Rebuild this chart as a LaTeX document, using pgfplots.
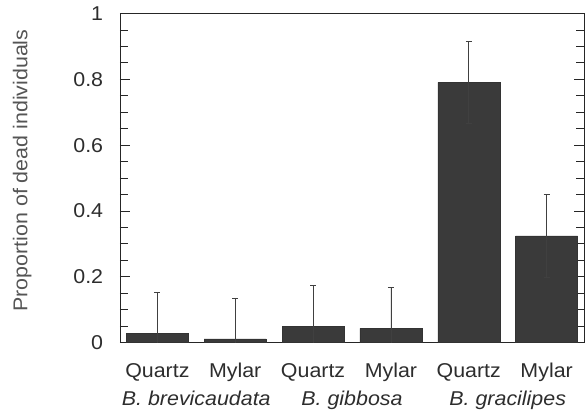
\documentclass[border=0pt]{standalone}
\usepackage{fontspec}
\setmainfont{Liberation Sans}[FakeStretch=1.07]
\usepackage{pgfplots}
\pgfplotsset{compat=1.18}
\definecolor{barfill}{RGB}{58,58,58}
\definecolor{txt}{RGB}{45,45,45}
\definecolor{ylab}{RGB}{85,85,85}
\begin{document}
\fontsize{20}{23}\selectfont
\begin{tikzpicture}
\begin{axis}[
    scale only axis,
    width=464pt, height=329pt,
    xmin=-0.48, xmax=5.48,
    ymin=0, ymax=1,
    axis line style={line width=0.9pt, black!85},
    xtick={0,1,2,3,4,5},
    xticklabels={Quartz,Mylar,Quartz,Mylar,Quartz,Mylar},
    x tick style={draw=none},
    xticklabel style={anchor=base, yshift=-35pt, text=txt},
    extra x ticks={0.5,2.5,4.5},
    extra x tick labels={\textit{B. brevicaudata},\textit{B. gibbosa},\textit{B. gracilipes}},
    extra x tick style={tick style={draw=none}, tick label style={yshift=-28pt}},
    ytick={0,0.2,0.4,0.6,0.8,1},
    yticklabels={0,0.2,0.4,0.6,0.8,1},
    minor y tick num=3,
    tick align=inside,
    ytick pos=both,
    yticklabel pos=left,
    major tick length=10pt,
    minor tick length=8pt,
    y tick style={line width=0.8pt, black!85},
    yticklabel style={xshift=-10pt, text=txt},
    ylabel={Proportion of dead individuals},
    ylabel style={at={(axis description cs:-0.211,0.523)}, anchor=center, text=ylab},
    clip=true,
]
\addplot[ybar, bar width=62pt, fill=barfill, draw=black!80,
    error bars/.cd, y dir=both, y explicit,
    error bar style={line width=0.6pt, black!75},
    error mark options={rotate=90, mark size=3pt, line width=0.6pt, black!75}]
coordinates {
    (0,0.028) +- (0,0.125)
    (1,0.011) +- (0,0.125)
    (2,0.049) +- (0,0.125)
    (3,0.043) +- (0,0.125)
    (4,0.791) +- (0,0.125)
    (5,0.324) +- (0,0.127)
};
\end{axis}
\useasboundingbox ([shift={(-120pt,-73pt)}]current axis.south west) rectangle ([shift={(1pt,13pt)}]current axis.north east);
\end{tikzpicture}
\end{document}
